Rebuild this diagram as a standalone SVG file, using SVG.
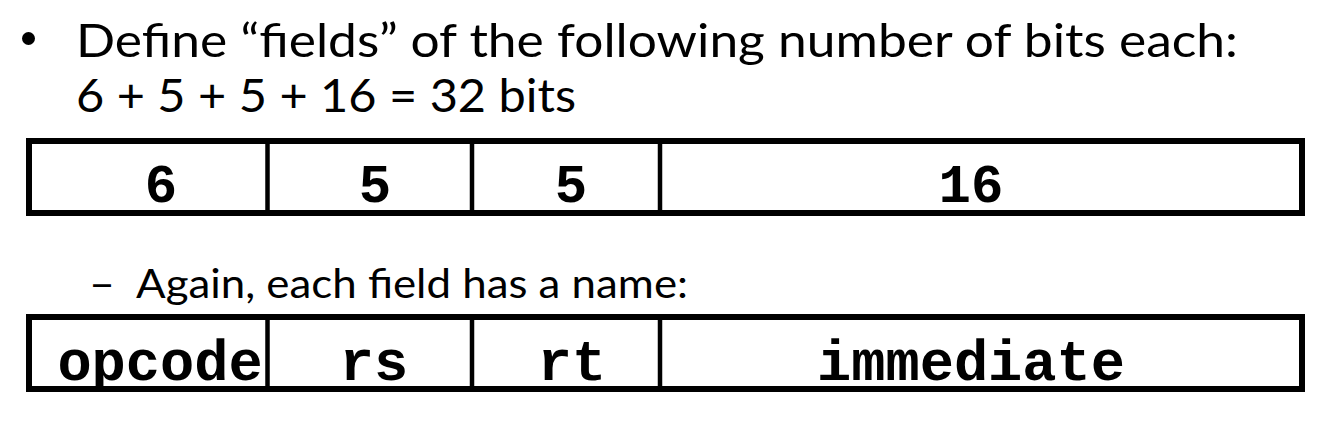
<svg xmlns="http://www.w3.org/2000/svg" width="1344" height="430" viewBox="0 0 1344 430">
<style>
.t{font-family:Lato,"Open Sans","Liberation Sans",sans-serif;fill:#000}
.m{font-family:"Liberation Mono","Courier New",monospace;font-weight:bold;fill:#000;text-anchor:middle}
.top{font-size:54px}
.bot{font-size:57px}
.box{fill:#fff;stroke:#000;stroke-width:6}
.div{stroke:#000;stroke-width:4.5}
</style>
<rect width="1344" height="430" fill="#fff"/>
<g id="title">
<circle cx="28.5" cy="38.5" r="6.5" fill="#000"/>
<text class="t" x="76" y="57" font-size="46.5" textLength="1162" lengthAdjust="spacingAndGlyphs">Define “fields” of the following number of bits each:</text>
<text class="t" x="76" y="112" font-size="46.5" textLength="500" lengthAdjust="spacingAndGlyphs">6 + 5 + 5 + 16 = 32 bits</text>
</g>
<g id="bits-table">
<rect class="box" x="29" y="141" width="1273" height="72"/>
<line class="div" x1="267.5" y1="141" x2="267.5" y2="213"/>
<line class="div" x1="472" y1="141" x2="472" y2="213"/>
<line class="div" x1="660" y1="141" x2="660" y2="213"/>
<text class="m top" x="161" y="202">6</text>
<text class="m top" x="375" y="202">5</text>
<text class="m top" x="571" y="202">5</text>
<text class="m top" x="971" y="202">16</text>
</g>
<g id="subtitle">
<text class="t" x="89" y="298" font-size="40.5" textLength="26" lengthAdjust="spacingAndGlyphs">–</text>
<text class="t" x="136" y="298" font-size="40.5" textLength="552" lengthAdjust="spacingAndGlyphs">Again, each field has a name:</text>
</g>
<g id="names-table">
<rect class="box" x="29" y="317" width="1273" height="72"/>
<line class="div" x1="267.5" y1="317" x2="267.5" y2="389"/>
<line class="div" x1="472" y1="317" x2="472" y2="389"/>
<line class="div" x1="660" y1="317" x2="660" y2="389"/>
<text class="m bot" x="160" y="380">opcode</text>
<text class="m bot" x="374" y="380">rs</text>
<text class="m bot" x="572" y="380">rt</text>
<text class="m bot" x="971" y="380">immediate</text>
</g>
</svg>
